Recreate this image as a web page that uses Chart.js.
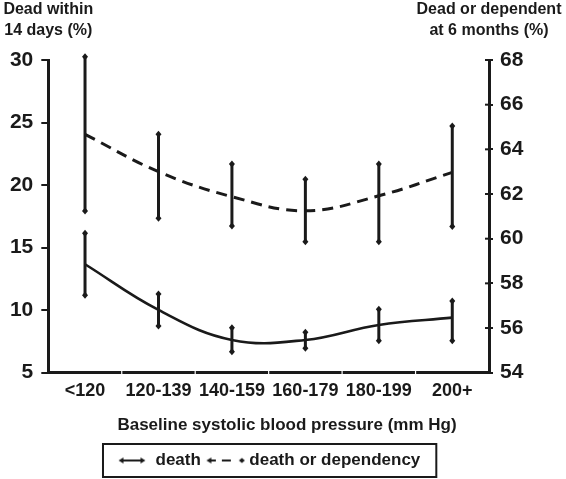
<!DOCTYPE html>
<html>
<head>
<meta charset="utf-8">
<script src="https://cdn.jsdelivr.net/npm/chart.js@4.4.1/dist/chart.umd.min.js"></script>
<style>
html,body{margin:0;padding:0;background:#fff;}
#wrap{width:566px;height:479px;position:relative;}
</style>
</head>
<body>
<div id="wrap"><canvas id="c"></canvas></div>
<script>
// ---- data ----
const categories = ['<120', '120-139', '140-159', '160-179', '180-199', '200+'];
const deathPct   = [13.67, 10.02, 7.62, 7.62, 8.82, 9.40];
const deathLow   = [11.19, 8.74, 6.68, 6.95, 7.56, 7.56];
const deathHigh  = [16.15, 11.30, 8.60, 8.23, 10.07, 10.74];
const depPct     = [64.67, 63.00, 61.88, 61.25, 61.92, 62.97];
const depLow     = [61.24, 60.91, 60.57, 59.86, 59.86, 60.54];
const depHigh    = [68.14, 64.68, 63.34, 62.66, 63.34, 65.04];
const leftTicks  = [5, 10, 15, 20, 25, 30];
const rightTicks = [54, 56, 58, 60, 62, 64, 66, 68];
const seriesNames = ['death', 'death or dependency'];
const leftTitle  = ['Dead within', '14 days (%)'];
const rightTitle = ['Dead or dependent', 'at 6 months (%)'];
const xTitle     = 'Baseline systolic blood pressure (mm Hg)';

const INK = '#1a1a1a';
const FAMILY = "'Liberation Sans', Arial, Helvetica, sans-serif";
Chart.defaults.font.family = FAMILY;
Chart.defaults.color = INK;

function makeSymbol(kind) {
  const w = kind === 'solid' ? 28 : 40, h = 10;
  const c = document.createElement('canvas');
  c.width = w; c.height = h;
  const g = c.getContext('2d');
  g.strokeStyle = INK; g.fillStyle = INK; g.lineWidth = 2;
  const y = 5;
  const head = (x, dir) => {
    g.beginPath(); g.moveTo(x, y); g.lineTo(x + dir * 5, y - 3); g.lineTo(x + dir * 5, y + 3); g.closePath(); g.fill();
  };
  if (kind === 'solid') {
    g.beginPath(); g.moveTo(3, y); g.lineTo(w - 3, y); g.stroke();
    head(0.5, 1); head(w - 0.5, -1);
  } else {
    g.beginPath(); g.moveTo(3, y); g.lineTo(10, y); g.moveTo(16, y); g.lineTo(25, y); g.stroke();
    head(0.5, 1);
    g.beginPath(); g.moveTo(w - 1, y); g.lineTo(w - 4, y - 2.5); g.lineTo(w - 7, y); g.lineTo(w - 4, y + 2.5); g.closePath(); g.fill();
  }
  return c;
}
const symbols = [makeSymbol('solid'), makeSymbol('dashed')];

const deco = {
  id: 'deco',
  afterDatasetsDraw(chart) {
    const ctx = chart.ctx, xs = chart.scales.x;
    const sets = [[chart.scales.y, deathLow, deathHigh], [chart.scales.y1, depLow, depHigh]];
    ctx.save();
    ctx.strokeStyle = INK; ctx.fillStyle = INK; ctx.lineWidth = 3;
    sets.forEach(([s, lo, hi]) => {
      categories.forEach((c, i) => {
        const x = xs.getPixelForValue(i);
        const y0 = s.getPixelForValue(lo[i]), y1 = s.getPixelForValue(hi[i]);
        ctx.beginPath(); ctx.moveTo(x, y0); ctx.lineTo(x, y1); ctx.stroke();
        [y0, y1].forEach(y => {
          ctx.beginPath(); ctx.moveTo(x, y - 3.5); ctx.lineTo(x + 3, y); ctx.lineTo(x, y + 3.5); ctx.lineTo(x - 3, y); ctx.closePath(); ctx.fill();
        });
      });
    });
    ctx.restore();
  },
  afterDraw(chart) {
    const ctx = chart.ctx, ca = chart.chartArea, xs = chart.scales.x;
    ctx.save();
    // white separators in the x axis line
    ctx.strokeStyle = '#fff'; ctx.lineWidth = 1.2;
    for (let k = 1; k < categories.length; k++) {
      const x = (xs.getPixelForValue(k - 1) + xs.getPixelForValue(k)) / 2;
      ctx.beginPath(); ctx.moveTo(x, ca.bottom - 2.5); ctx.lineTo(x, ca.bottom + 2.5); ctx.stroke();
    }
    // inward half of right-axis ticks
    ctx.strokeStyle = INK; ctx.lineWidth = 2;
    chart.scales.y1.ticks.forEach(t => {
      const y = chart.scales.y1.getPixelForValue(t.value);
      ctx.beginPath(); ctx.moveTo(ca.right, y); ctx.lineTo(ca.right - 4, y); ctx.stroke();
    });
    // axis titles
    ctx.fillStyle = INK; ctx.textAlign = 'center'; ctx.textBaseline = 'middle';
    ctx.font = 'bold 16px ' + FAMILY;
    const lx = chart.scales.y.right, rx = chart.scales.y1.left;
    leftTitle.forEach((t, i) => ctx.fillText(t, lx, 10 + i * 21));
    rightTitle.forEach((t, i) => ctx.fillText(t, rx, 10 + i * 21));
    ctx.font = 'bold 17px ' + FAMILY;
    ctx.fillText(xTitle, chart.width / 2 + 4, 425);
    // legend frame
    const hb = chart.legend.legendHitBoxes;
    if (hb && hb.length) {
      const l = Math.min(...hb.map(h => h.left)) - 14;
      const r = Math.max(...hb.map(h => h.left + h.width)) + 16;
      const cy = hb[0].top + hb[0].height / 2;
      ctx.lineWidth = 2; ctx.strokeStyle = INK;
      ctx.strokeRect(l, cy - 16.5, r - l, 33);
    }
    ctx.restore();
  }
};

new Chart(document.getElementById('c'), {
  type: 'line',
  data: {
    labels: categories,
    datasets: [
      { label: seriesNames[0], data: deathPct, yAxisID: 'y', borderColor: INK, borderWidth: 2.6,
        tension: 0.4, pointRadius: 0, fill: false },
      { label: seriesNames[1], data: depPct, yAxisID: 'y1', borderColor: INK, borderWidth: 3,
        borderDash: [11, 7], tension: 0.4, pointRadius: 0, fill: false }
    ]
  },
  options: {
    responsive: true, maintainAspectRatio: false, animation: false, devicePixelRatio: 1,
    layout: { padding: { top: 60, left: 0, right: 0, bottom: 0 } },
    plugins: {
      tooltip: { enabled: false },
      legend: {
        position: 'bottom', fullSize: false,
        labels: {
          usePointStyle: true, pointStyleWidth: 30, padding: 10, color: INK,
          font: { size: 17, weight: 'bold', family: FAMILY },
          generateLabels: (chart) => chart.data.datasets.map((ds, i) => ({
            text: ds.label, pointStyle: symbols[i], fillStyle: INK, strokeStyle: INK,
            lineWidth: 0, hidden: false, datasetIndex: i, fontColor: INK
          }))
        }
      }
    },
    scales: {
      x: {
        type: 'category', offset: true,
        afterFit: s => { s.height = 69.3; },
        grid: { display: true, drawOnChartArea: false, drawTicks: false },
        border: { display: true, color: INK, width: 3 },
        ticks: { color: INK, padding: 8, maxRotation: 0, autoSkip: false,
                 font: { size: 18, weight: 'bold', family: FAMILY } }
      },
      y: {
        position: 'left', min: 5, max: 30,
        afterBuildTicks: s => { s.ticks = leftTicks.map(v => ({ value: v })); },
        afterFit: s => { s.width = 48.3; },
        grid: { drawOnChartArea: false, drawTicks: true, tickLength: 7, color: INK, lineWidth: 2 },
        border: { display: true, color: INK, width: 3 },
        ticks: { color: INK, padding: 8, font: { size: 21, weight: 'bold', family: FAMILY } }
      },
      y1: {
        position: 'right', min: 54, max: 68,
        afterBuildTicks: s => { s.ticks = rightTicks.map(v => ({ value: v })); },
        afterFit: s => { s.width = 77; },
        grid: { drawOnChartArea: false, drawTicks: true, tickLength: 4, color: INK, lineWidth: 2 },
        border: { display: true, color: INK, width: 3 },
        ticks: { color: INK, padding: 7, font: { size: 21, weight: 'bold', family: FAMILY } }
      }
    }
  },
  plugins: [deco]
});
</script>
</body>
</html>
